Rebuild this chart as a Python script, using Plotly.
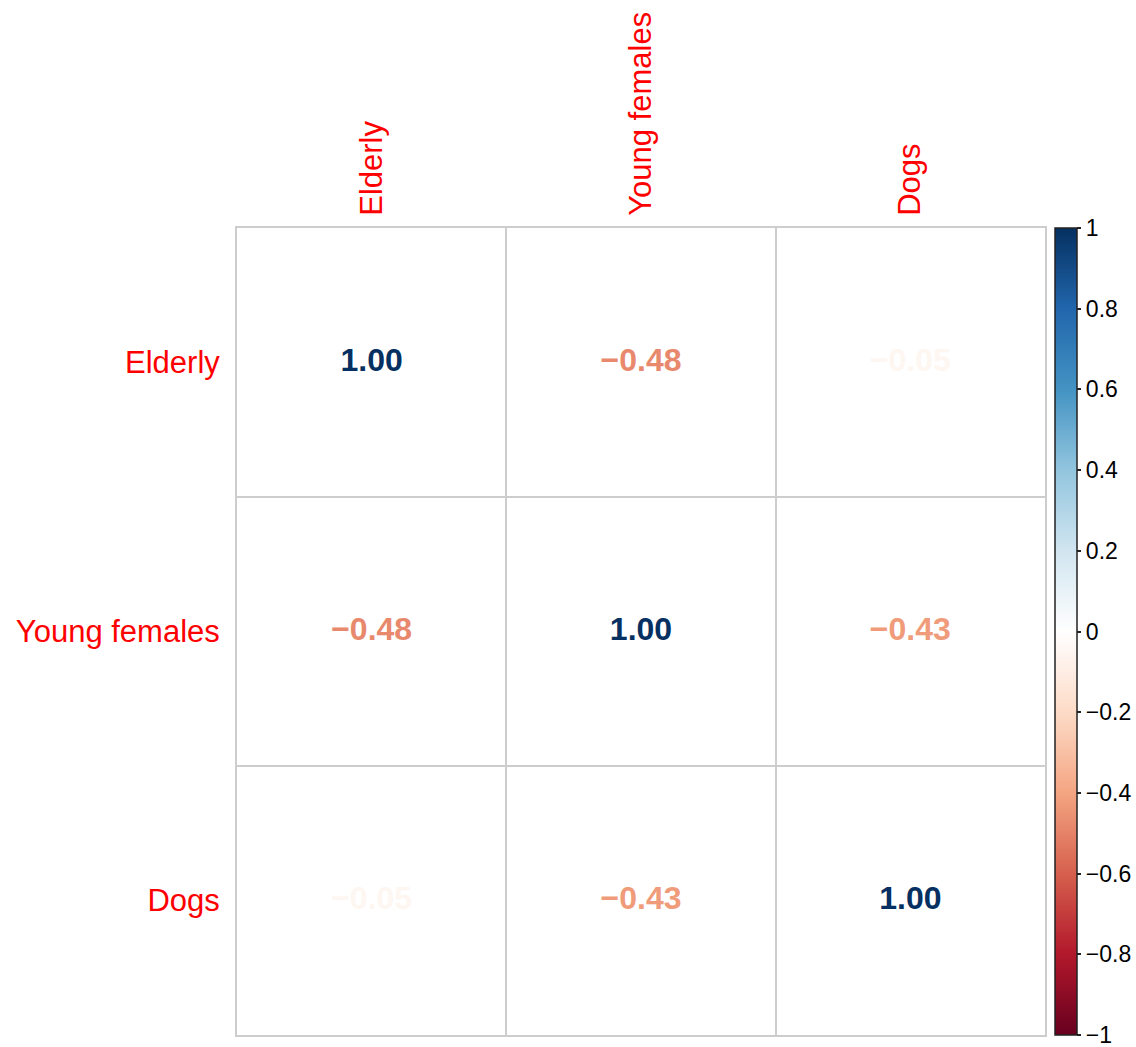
import plotly.graph_objects as go
from plotly.colors import sample_colorscale

# Variables and their pairwise correlation matrix
variables = ["Elderly", "Young females", "Dogs"]
corr_row_elderly = [1.00, -0.48, -0.05]
corr_row_young_females = [-0.48, 1.00, -0.43]
corr_row_dogs = [-0.05, -0.43, 1.00]
corr = [corr_row_elderly, corr_row_young_females, corr_row_dogs]

# Colorbar tick values and labels
cbar_tickvals = [1, 0.8, 0.6, 0.4, 0.2, 0, -0.2, -0.4, -0.6, -0.8, -1]
cbar_ticktext = ["1", "0.8", "0.6", "0.4", "0.2", "0",
                 "\u22120.2", "\u22120.4", "\u22120.6", "\u22120.8", "\u22121"]

# Diverging red-white-blue palette (corrplot RdBu)
palette = ["#67001F", "#B2182B", "#D6604D", "#F4A582", "#FDDBC7", "#FFFFFF",
           "#D1E5F0", "#92C5DE", "#4393C3", "#2166AC", "#053061"]
colorscale = [[i / (len(palette) - 1), c] for i, c in enumerate(palette)]

positions = list(range(len(variables)))
xs, ys, vals = [], [], []
for r, row in enumerate(corr):
    for c, v in enumerate(row):
        xs.append(positions[c])
        ys.append(positions[r])
        vals.append(v)

text_colors = sample_colorscale(colorscale, [(v + 1) / 2 for v in vals])
labels = [f"{v:.2f}".replace("-", "\u2212") for v in vals]

grid_color = "#cdcdcd"
label_font = dict(family="Liberation Sans, Arial, sans-serif", size=31, color="#ff0000")

fig = go.Figure()
fig.add_trace(go.Scatter(
    x=xs, y=ys, mode="markers+text",
    text=labels,
    textposition="middle center",
    textfont=dict(family="Liberation Sans, Arial, sans-serif", size=32,
                  color=text_colors, weight="bold"),
    marker=dict(
        color=vals, cmin=-1, cmax=1, colorscale=colorscale, opacity=0, size=1,
        showscale=True,
        colorbar=dict(
            x=1.0124, xanchor="left", xpad=0,
            y=0.5, yanchor="middle", len=1, lenmode="fraction", ypad=0,
            thickness=22,
            outlinecolor="#222222", outlinewidth=1.5,
            tickvals=cbar_tickvals, ticktext=cbar_ticktext,
            ticks="outside", ticklen=4, tickcolor="#222222", tickwidth=1.5,
            ticklabeloverflow="allow",
            tickfont=dict(family="Liberation Sans, Arial, sans-serif", size=23, color="#000000"),
        ),
    ),
    hoverinfo="skip",
    showlegend=False,
))

fig.update_xaxes(
    tickvals=positions, ticktext=variables,
    side="top", tickangle=-90, tickfont=label_font,
    range=[-0.5, 2.5], showgrid=False, zeroline=False,
    ticks="", ticklabelstandoff=4,
    minor=dict(tick0=-0.5, dtick=1, showgrid=True, gridcolor=grid_color, gridwidth=2),
    showline=True, mirror=True, linecolor=grid_color, linewidth=2,
)
fig.update_yaxes(
    tickvals=positions, ticktext=variables,
    tickfont=label_font,
    range=[2.5, -0.5], showgrid=False, zeroline=False,
    ticks="", ticklabelstandoff=9,
    minor=dict(tick0=-0.5, dtick=1, showgrid=True, gridcolor=grid_color, gridwidth=2),
    showline=True, mirror=True, linecolor=grid_color, linewidth=2,
)

fig.update_layout(
    width=1136, height=1047,
    margin=dict(l=237, r=91, t=228, b=12, autoexpand=False),
    paper_bgcolor="white", plot_bgcolor="white",
)

fig.write_html("out.html")
